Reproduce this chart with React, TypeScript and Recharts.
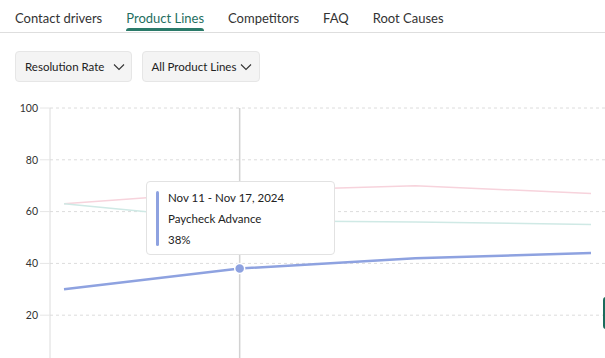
import { LineChart, Line, XAxis, YAxis, CartesianGrid, Tooltip } from "recharts";

const weeks = [
  "Nov 4 - Nov 10, 2024",
  "Nov 11 - Nov 17, 2024",
  "Nov 18 - Nov 24, 2024",
  "Nov 25 - Dec 1, 2024",
];
const paycheckAdvance = [30, 38, 42, 44];
const creditBuilder = [63, 68, 70, 67];
const cashBack = [63, 56.5, 56, 55];
const yTicks = [0, 20, 40, 60, 80, 100];
const tabs = ["Contact drivers", "Product Lines", "Competitors", "FAQ", "Root Causes"];
const filters = ["Resolution Rate", "All Product Lines"];

const data = weeks.map((week, i) => ({
  week,
  paycheckAdvance: paycheckAdvance[i],
  creditBuilder: creditBuilder[i],
  cashBack: cashBack[i],
}));

const FONT = "Lato, 'Open Sans', sans-serif";
const BLUE = "#8ea2e0";

function Chevron({ gap }: { gap: number }) {
  return (
    <svg width="12" height="8" viewBox="0 0 12 8" style={{ marginLeft: gap }}>
      <path d="M1 1.5 L6 6.5 L11 1.5" fill="none" stroke="#333" strokeWidth="1.1" />
    </svg>
  );
}

function TipBox({ active, payload, label }: any) {
  if (!active || !payload) return null;
  const item = payload.find((p: any) => p.dataKey === "paycheckAdvance");
  if (!item) return null;
  return (
    <div
      style={{
        width: 189,
        height: 74,
        boxSizing: "border-box",
        background: "#fff",
        border: "1px solid #e2e2e2",
        borderRadius: 4,
        padding: "9px 10px 8px 9px",
        display: "flex",
        fontFamily: FONT,
        color: "#222",
      }}
    >
      <div style={{ width: 3, borderRadius: 2, background: BLUE, marginRight: 9 }} />
      <div style={{ fontSize: 11.5, lineHeight: "21px", marginTop: -4 }}>
        <div>{label}</div>
        <div>{item.name}</div>
        <div>{item.value}%</div>
      </div>
    </div>
  );
}

export default function App() {
  return (
    <div
      style={{
        position: "fixed",
        left: 0,
        top: 0,
        width: 605,
        height: 358,
        overflow: "hidden",
        background: "#fff",
        fontFamily: FONT,
      }}
    >
      {/* tabs */}
      <div style={{ position: "absolute", top: 10, left: 15, display: "flex", fontSize: 13, color: "#333" }}>
        {tabs.map((t, i) => (
          <div
            key={t}
            style={{
              marginRight: 24,
              color: i === 1 ? "#1f6f5f" : "#333",
              position: "relative",
              paddingBottom: 5,
            }}
          >
            {t}
            {i === 1 && (
              <div
                style={{
                  position: "absolute",
                  left: 0,
                  right: 0,
                  bottom: 0,
                  height: 3,
                  background: "#2a7a69",
                  borderRadius: "3px 3px 0 0",
                }}
              />
            )}
          </div>
        ))}
      </div>
      <div style={{ position: "absolute", top: 32, left: 0, width: 605, height: 1, background: "#dedede" }} />

      {/* filters */}
      <div style={{ position: "absolute", top: 51, left: 15, display: "flex" }}>
        {filters.map((f, i) => (
          <div
            key={f}
            style={{
              height: 31,
              boxSizing: "border-box",
              marginRight: 10,
              padding: i === 0 ? "0 6px 0 9px" : "0 7px 0 8px",
              background: "#f4f4f4",
              border: "1px solid #e6e6e6",
              borderRadius: 4,
              display: "flex",
              alignItems: "center",
              fontSize: 11.5,
              color: "#222",
            }}
          >
            {f}
            <Chevron gap={i === 0 ? 9 : 4} />
          </div>
        ))}
      </div>

      {/* chart */}
      <div style={{ position: "absolute", top: 100, left: 0 }}>
        <LineChart width={605} height={272} data={data} margin={{ top: 8, right: 0, bottom: 5, left: 0 }}>
          <CartesianGrid vertical={false} stroke="#dcdcdc" strokeDasharray="3 3" />
          <XAxis dataKey="week" hide padding={{ left: 14, right: 14 }} />
          <YAxis
            domain={[0, 100]}
            ticks={yTicks}
            width={50}
            tickSize={10}
            tickLine={{ stroke: "#e6e6e6" }}
            axisLine={{ stroke: "#dcdcdc" }}
            tick={{ fontSize: 10.5, fill: "#333", fontFamily: FONT }}
          />
          <Tooltip
            content={<TipBox />}
            defaultIndex={1}
            position={{ x: 146, y: 81 }}
            cursor={{ stroke: "#d2d2d2", strokeWidth: 1.5 }}
            isAnimationActive={false}
          />
          <Line
            dataKey="creditBuilder"
            name="Credit Builder"
            stroke="#f7d3dc"
            strokeWidth={1.5}
            dot={false}
            activeDot={false}
            isAnimationActive={false}
          />
          <Line
            dataKey="cashBack"
            name="Cash Back"
            stroke="#cfe9e5"
            strokeWidth={1.5}
            dot={false}
            activeDot={false}
            isAnimationActive={false}
          />
          <Line
            dataKey="paycheckAdvance"
            name="Paycheck Advance"
            stroke={BLUE}
            strokeWidth={2.5}
            dot={false}
            activeDot={{ r: 5, fill: BLUE, stroke: "#fff", strokeWidth: 1.5 }}
            isAnimationActive={false}
          />
        </LineChart>
      </div>

      <div
        style={{
          position: "absolute",
          left: 603,
          top: 297,
          width: 6,
          height: 32,
          background: "#1b6b5c",
          borderRadius: 3,
        }}
      />
    </div>
  );
}
